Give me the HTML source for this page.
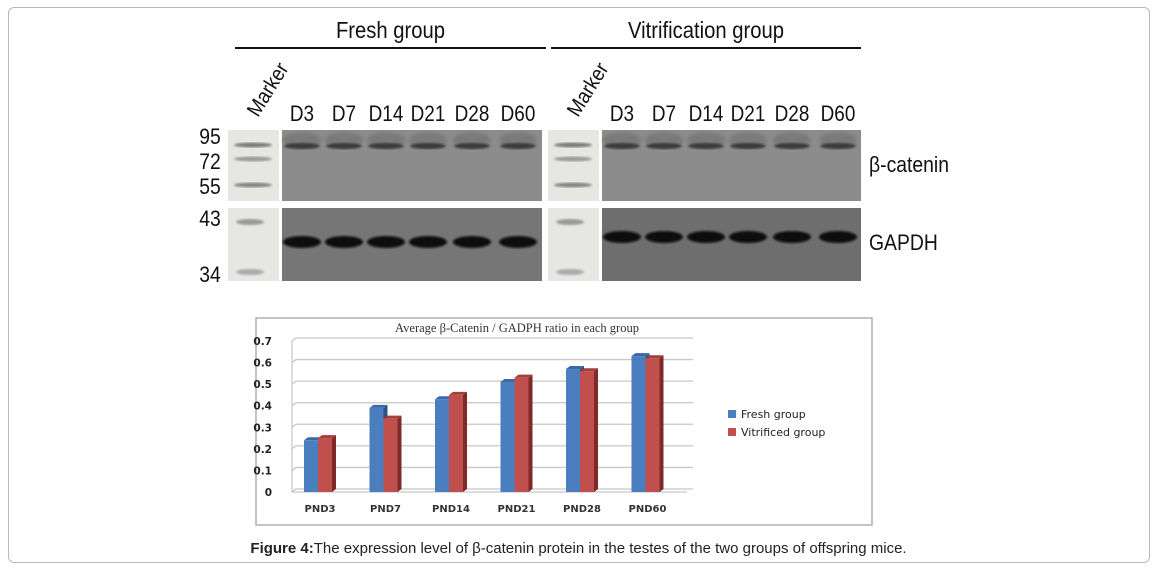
<!DOCTYPE html>
<html><head><meta charset="utf-8">
<style>
body{margin:0;width:1157px;height:570px;background:#fff;overflow:hidden;font-family:"Liberation Sans",sans-serif;}
#frame{position:absolute;left:8px;top:7px;width:1140px;height:554px;border:1px solid #b8b8b8;border-radius:6px;}
#caption{position:absolute;left:0;width:1157px;top:540px;text-align:center;font-size:15px;color:#222;}
svg{position:absolute;left:0;top:0;}
</style></head><body>
<div id="frame"></div>
<svg id="s" width="1157" height="570">
 <defs>
  <filter id="blur1"><feGaussianBlur stdDeviation="1.6"/></filter>
  <filter id="blur2"><feGaussianBlur stdDeviation="1"/></filter>
 </defs>
 <g id="blot"></g>
 <g id="chart"></g>
</svg>
<div id="caption"><b>Figure 4:</b>The expression level of β-catenin protein in the testes of the two groups of offspring mice.</div>
<script>
const NS="http://www.w3.org/2000/svg";
function mk(p,t,a,txt){const e=document.createElementNS(NS,t);for(const k in a)e.setAttribute(k,a[k]);if(txt!==undefined)e.textContent=txt;p.appendChild(e);return e;}
const blot=document.getElementById('blot');
const F='"Liberation Sans",sans-serif';
const groups=[{name:"Fresh group",x1:235,x2:546,mx:228,lx:282,lw:260,gy:242},{name:"Vitrification group",x1:551,x2:861,mx:548,lx:602,lw:259,gy:237}];
const lanes=["D3","D7","D14","D21","D28","D60"];
const laneOff=[20,62,104,146,190,236];
groups.forEach((g,gi)=>{
 let t=mk(blot,'text',{x:(g.x1+g.x2)/2,y:38,'text-anchor':'middle','font-size':23,'font-family':F,fill:'#111',transform:`scale(0.88,1)`, 'transform-origin':`${(g.x1+g.x2)/2} 30`},g.name);
 
 let l=mk(blot,'line',{x1:g.x1,x2:g.x2,y1:48,y2:48,stroke:'#111','stroke-width':2});
 
 let m=mk(blot,'text',{x:0,y:0,'font-size':21,'font-family':F,fill:'#111',transform:`translate(${g.mx+30},118) rotate(-58) scale(0.9,1)`},'Marker');
 
 lanes.forEach((d,i)=>{
  const cx=g.lx+laneOff[i];
  let lt=mk(blot,'text',{x:cx,y:121,'text-anchor':'middle','font-size':22,'font-family':F,fill:'#111',transform:'scale(0.86,1)','transform-origin':`${cx} 121`},d);
  
 });
 mk(blot,'rect',{x:g.mx,y:130,width:51,height:71,fill:'#e6e6e3'});
 mk(blot,'rect',{x:g.mx,y:208,width:51,height:73,fill:'#e6e6e3'});
 [[145,'#7c7c7c'],[159,'#9a9a9a'],[185,'#858585']].forEach(b=>mk(blot,'ellipse',{cx:g.mx+25,cy:b[0],rx:19,ry:2.5,fill:b[1],filter:'url(#blur2)'}));
 [[222,'#999'],[272,'#aaa']].forEach(b=>mk(blot,'ellipse',{cx:g.mx+22,cy:b[0],rx:14,ry:3,fill:b[1],filter:'url(#blur2)'}));
 let up=mk(blot,'rect',{x:g.lx,y:130,width:g.lw,height:71,fill:'#8c8c8c'});
 
 let lo=mk(blot,'rect',{x:g.lx,y:208,width:g.lw,height:73,fill:gi?'#6e6e6e':'#767676'});
 
 lanes.forEach((d,i)=>{
  const cx=g.lx+laneOff[i];
  mk(blot,'ellipse',{cx:cx,cy:140,rx:19,ry:8,fill:'#7a7a7a',filter:'url(#blur1)'});
  mk(blot,'ellipse',{cx:cx,cy:146,rx:18,ry:3,fill:'#3a3a3a',filter:'url(#blur2)'});
  mk(blot,'ellipse',{cx:cx,cy:g.gy,rx:19,ry:6,fill:'#0c0c0c',filter:'url(#blur2)'});
 });
});
[["95",144],["72",169],["55",194],["43",226],["34",282]].forEach(p=>{
 let t=mk(blot,'text',{x:210,y:p[1],'text-anchor':'middle','font-size':22,'font-family':F,fill:'#111',transform:'scale(0.88,1)','transform-origin':`210 ${p[1]}`},p[0]);
 
});
let bc=mk(blot,'text',{x:869,y:172,'font-size':22,'font-family':F,fill:'#111',transform:'scale(0.88,1)','transform-origin':'869 172'},'β-catenin');

let gp=mk(blot,'text',{x:869,y:250,'font-size':22,'font-family':F,fill:'#111',transform:'scale(0.88,1)','transform-origin':'869 250'},'GAPDH');

</script>
<script>
const categories=["PND3","PND7","PND14","PND21","PND28","PND60"];
const freshValues=[0.24,0.39,0.43,0.51,0.57,0.63];
const vitrifiedValues=[0.25,0.34,0.45,0.53,0.56,0.62];
const yTicks=[0,0.1,0.2,0.3,0.4,0.5,0.6,0.7];
const yTickLabels=["0","0.1","0.2","0.3","0.4","0.5","0.6","0.7"];
(function(){
const C=document.getElementById('chart');
const NS="http://www.w3.org/2000/svg";
function mk(p,t,a,txt){const e=document.createElementNS(NS,t);for(const k in a)e.setAttribute(k,a[k]);if(txt!==undefined)e.textContent=txt;p.appendChild(e);return e;}
const y0=492,yTop=341,yMax=0.7,x0=292,step=65.5,dx=4,dy=3;
const y=v=>y0-(v/yMax)*(y0-yTop);
const xc=i=>x0+26+i*step;
let box=mk(C,'rect',{x:256,y:318,width:616,height:207,fill:'#fff',stroke:'#b0b0b0','stroke-width':1.5});

let tt=mk(C,'text',{x:517,y:332,'text-anchor':'middle','font-size':12.5,'font-family':'"Liberation Serif",serif',fill:'#333'},'Average β-Catenin / GADPH ratio in each group');

mk(C,'polyline',{points:`${x0+dx},${y(yMax)-dy} ${x0},${y(yMax)} ${x0},${y0} ${x0+dx},${y0-dy}`,fill:'none',stroke:'#bbb'});
yTicks.forEach((v,i)=>{
 let g=mk(C,'polyline',{points:`${x0},${y(v)} ${x0+dx},${y(v)-dy} 693,${y(v)-dy}`,fill:'none',stroke:'#c8c8c8','stroke-width':1.3});
 
 let t=mk(C,'text',{x:272,y:y(v)+4,'text-anchor':'end','font-size':10.5,'font-weight':'bold','font-family':'"DejaVu Sans",sans-serif',fill:'#222'},yTickLabels[i]);
 
});
mk(C,'line',{x1:x0,y1:y0,x2:687,y2:y0,stroke:'#bbb'});
function bar(cx,v,front,side,top,name){
 const w=14,yt=y(v);
 const g=mk(C,'g',{});
 
 mk(g,'polygon',{points:`${cx+w},${yt} ${cx+w+dx},${yt-dy} ${cx+w+dx},${y0-dy} ${cx+w},${y0}`,fill:side});
 mk(g,'polygon',{points:`${cx},${yt} ${cx+dx},${yt-dy} ${cx+w+dx},${yt-dy} ${cx+w},${yt}`,fill:top});
 mk(g,'rect',{x:cx,y:yt,width:w,height:y0-yt,fill:front});
}
categories.forEach((c,i)=>{
 bar(xc(i)-14,freshValues[i],'#4a7ebf','#2c5384','#3a6aa6','bar-fresh-'+c.toLowerCase());
 bar(xc(i),vitrifiedValues[i],'#c0504d','#7d2a28','#a33e3b','bar-vitrified-'+c.toLowerCase());
 let t=mk(C,'text',{x:xc(i)+2,y:512,'text-anchor':'middle','font-size':10,'font-weight':'bold','font-family':'"DejaVu Sans",sans-serif',fill:'#333'},c);
 
});
[["Fresh group",'#4a7ebf',414],["Vitrificed group",'#c0504d',432]].forEach(l=>{
 const g=mk(C,'g',{});
 
 mk(g,'rect',{x:728,y:l[2]-4,width:8,height:8,fill:l[1]});
 mk(g,'text',{x:741,y:l[2]+4,'font-size':11,'font-family':'"DejaVu Sans",sans-serif',fill:'#222'},l[0]);
});
})();
</script>
</body></html>
